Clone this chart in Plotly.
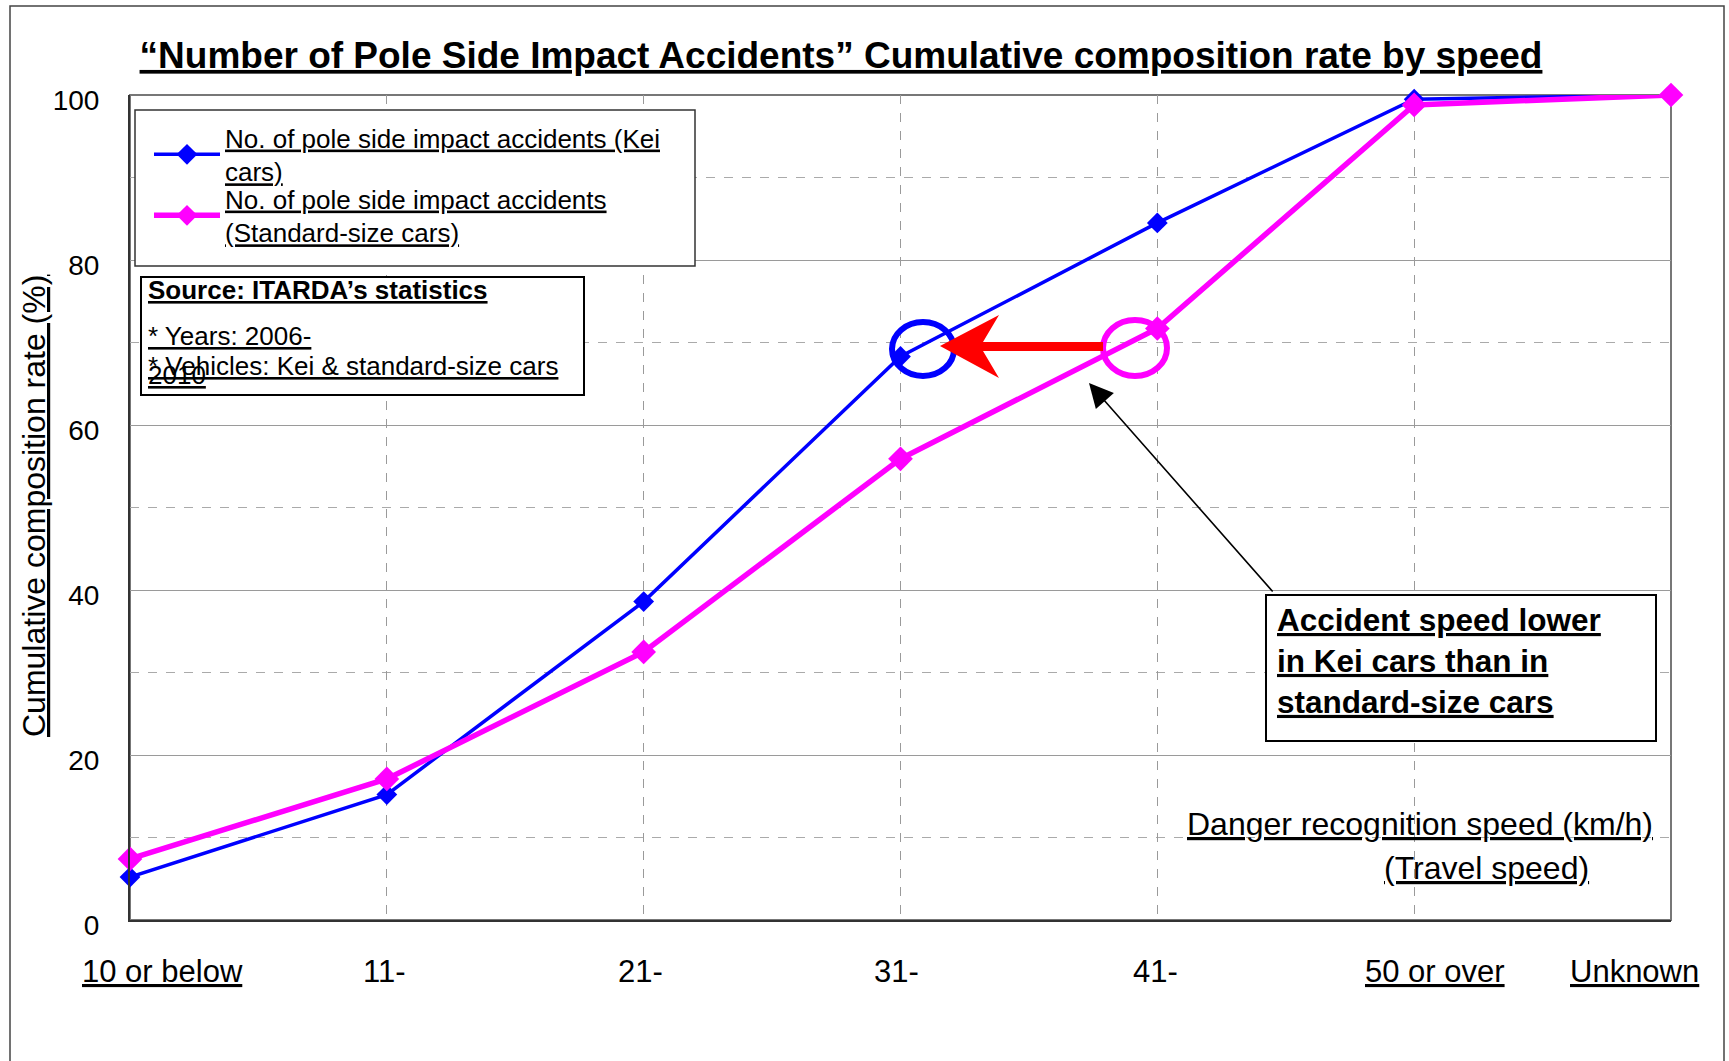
import plotly.graph_objects as go

# ---------------- data ----------------
categories = ["10 or below", "11-", "21-", "31-", "41-", "50 or over", "Unknown"]
kei_values = [5.2, 15.2, 38.6, 68.3, 84.5, 99.5, 100.0]
standard_values = [7.4, 17.1, 32.5, 55.9, 71.7, 98.8, 100.0]
x_tick_labels = ["<u>10 or below</u>", "11-", "21-", "31-", "41-", "<u>50 or over</u>", "<u>Unknown</u>"]
x_label_offsets = [0.125, -0.011, -0.014, -0.017, -0.009, 0.081, -0.144]
y_ticks = [0, 20, 40, 60, 80, 100]

kei_name = "<u>No. of pole side impact accidents (Kei</u><br><u>cars)</u>"
std_name = "<u>No. of pole side impact accidents</u><br><u>(Standard-size cars)</u>"
title_text = "<b><u>\u201cNumber of Pole Side Impact Accidents\u201d Cumulative composition rate by speed</u></b>"

FONT = "Liberation Sans, Arial, sans-serif"

# plot area in pixels
L, R, T, B = 130, 1671, 95, 920
W, H = 1729, 1061


def px(x):
    return (x - L) / (R - L)


def py(y):
    return (B - y) / (B - T)


fig = go.Figure()
fig.add_trace(go.Scatter(
    x=categories, y=kei_values, name=kei_name, mode="lines+markers",
    line=dict(color="#0000FF", width=3.5), cliponaxis=False, legend="legend",
    marker=dict(symbol="diamond", size=16, color="#0000FF"),
))
fig.add_trace(go.Scatter(
    x=categories, y=standard_values, name=std_name, mode="lines+markers",
    line=dict(color="#FF00FF", width=5.5), cliponaxis=False, legend="legend2",
    marker=dict(symbol="diamond", size=19, color="#FF00FF"),
))

shapes = []
# plot border
shapes.append(dict(type="rect", xref="paper", yref="paper", x0=0, x1=1, y0=0, y1=1,
                   line=dict(color="#777777", width=2), layer="between"))
# outer frame
shapes.append(dict(type="rect", xref="paper", yref="paper", x0=px(10), x1=px(1724),
                   y0=py(1075), y1=py(6), line=dict(color="#444444", width=1.5), layer="above"))
# legend box
shapes.append(dict(type="rect", xref="paper", yref="paper", x0=px(135), x1=px(695),
                   y0=py(266), y1=py(110), line=dict(color="#333333", width=1.5),
                   fillcolor="white", layer="above"))
# source box
shapes.append(dict(type="rect", xref="paper", yref="paper", x0=px(141), x1=px(584),
                   y0=py(395), y1=py(277), line=dict(color="black", width=2),
                   fillcolor="white", layer="above"))
# comment box
shapes.append(dict(type="rect", xref="paper", yref="paper", x0=px(1266), x1=px(1656),
                   y0=py(741), y1=py(595), line=dict(color="black", width=2),
                   fillcolor="white", layer="above"))
# circles
shapes.append(dict(type="circle", xref="paper", yref="paper", x0=px(923 - 31), x1=px(923 + 31),
                   y0=py(349 + 27), y1=py(349 - 27), line=dict(color="#0000FF", width=6), layer="above"))
shapes.append(dict(type="circle", xref="paper", yref="paper", x0=px(1135 - 32), x1=px(1135 + 32),
                   y0=py(348 + 28), y1=py(348 - 28), line=dict(color="#FF00FF", width=6), layer="above"))
# red arrow (notched head + shaft)
pts = [(940, 346), (999, 315), (983, 342), (1103, 342), (1103, 351), (983, 351), (999, 378)]
path = "M " + " L ".join(f"{px(a):.5f},{py(b):.5f}" for a, b in pts) + " Z"
shapes.append(dict(type="path", xref="paper", yref="paper", path=path,
                   fillcolor="#FF0000", line=dict(color="#FF0000", width=0), layer="above"))

annotations = []
# x tick labels
for i, (lab, off) in enumerate(zip(x_tick_labels, x_label_offsets)):
    annotations.append(dict(x=i + off, y=py(971), xref="x", yref="paper", text=lab,
                            showarrow=False, xanchor="center", yanchor="middle",
                            font=dict(family=FONT, size=31, color="black")))
# y axis title
annotations.append(dict(x=px(34), y=py(506), xref="paper", yref="paper",
                        text="<u>Cumulative composition rate (%)</u>", textangle=-90,
                        showarrow=False, xanchor="center", yanchor="middle",
                        font=dict(family=FONT, size=32, color="black")))
# source box text
annotations.append(dict(x=px(146), y=py(290), xref="paper", yref="paper",
                        text="<b><u>Source: ITARDA\u2019s statistics</u></b>", showarrow=False,
                        xanchor="left", yanchor="middle", font=dict(family=FONT, size=26, color="black")))
annotations.append(dict(x=px(146), y=py(336), xref="paper", yref="paper",
                        text="<u>* Years: 2006-</u>", showarrow=False,
                        xanchor="left", yanchor="middle", font=dict(family=FONT, size=26, color="black")))
annotations.append(dict(x=px(146), y=py(375), xref="paper", yref="paper",
                        text="<u>2010</u>", showarrow=False,
                        xanchor="left", yanchor="middle", font=dict(family=FONT, size=26, color="black")))
annotations.append(dict(x=px(146), y=py(366), xref="paper", yref="paper",
                        text="<u>* Vehicles: Kei & standard-size cars</u>", showarrow=False,
                        xanchor="left", yanchor="middle", font=dict(family=FONT, size=26, color="black")))
# comment text
annotations.append(dict(x=px(1275), y=py(661), xref="paper", yref="paper",
                        text="<b><u>Accident speed lower</u></b><br><b><u>in Kei cars than in</u></b><br><b><u>standard-size cars</u></b>",
                        showarrow=False, align="left", xanchor="left", yanchor="middle",
                        font=dict(family=FONT, size=31.5, color="black")))
# axis caption
annotations.append(dict(x=px(1655), y=py(824), xref="paper", yref="paper",
                        text="<u>Danger recognition speed (km/h)</u>", showarrow=False,
                        xanchor="right", yanchor="middle", font=dict(family=FONT, size=32, color="black")))
annotations.append(dict(x=px(1486), y=py(868), xref="paper", yref="paper",
                        text="<u>(Travel speed)</u>", showarrow=False,
                        xanchor="center", yanchor="middle", font=dict(family=FONT, size=32, color="black")))
# black arrow
annotations.append(dict(x=px(1089), y=py(383), xref="paper", yref="paper", text="",
                        showarrow=True, arrowhead=2, arrowsize=3, arrowwidth=1.6,
                        arrowcolor="black", ax=185, ay=210, standoff=0))

legend_common = dict(xanchor="left", yanchor="top", bgcolor="rgba(0,0,0,0)", borderwidth=0,
                     itemwidth=66, font=dict(family=FONT, size=26, color="black"))

fig.update_layout(
    width=W, height=H,
    margin=dict(l=L, r=W - R, t=T, b=H - B),
    paper_bgcolor="white", plot_bgcolor="white",
    font=dict(family=FONT, color="black"),
    title=dict(text=title_text, x=841 / W, y=1 - 55 / H, xref="container", yref="container",
               xanchor="center", yanchor="middle", font=dict(family=FONT, size=37, color="black")),
    xaxis=dict(type="category", range=[0, 6], showticklabels=False, ticks="",
               showgrid=True, griddash="dash", gridcolor="#9a9a9a", gridwidth=1.3,
               showline=True, linecolor="#333333", linewidth=2, zeroline=False),
    yaxis=dict(range=[0, 100], tickvals=y_ticks, ticks="", showgrid=True,
               gridcolor="#9a9a9a", gridwidth=1.3,
               minor=dict(dtick=10, showgrid=True, griddash="dash", gridcolor="#aaaaaa", gridwidth=1.3),
               showline=True, linecolor="#333333", linewidth=2, zeroline=False,
               tickfont=dict(family=FONT, size=28, color="black"),
               ticklabelstandoff=23, ticklabelshift=5),
    legend=dict(x=px(149), y=py(114), **legend_common),
    legend2=dict(x=px(149), y=py(175), **legend_common),
    shapes=shapes,
    annotations=annotations,
    showlegend=True,
)

fig.write_html("out.html", config={"displayModeBar": False},
               post_script="document.body.style.margin='0';")
